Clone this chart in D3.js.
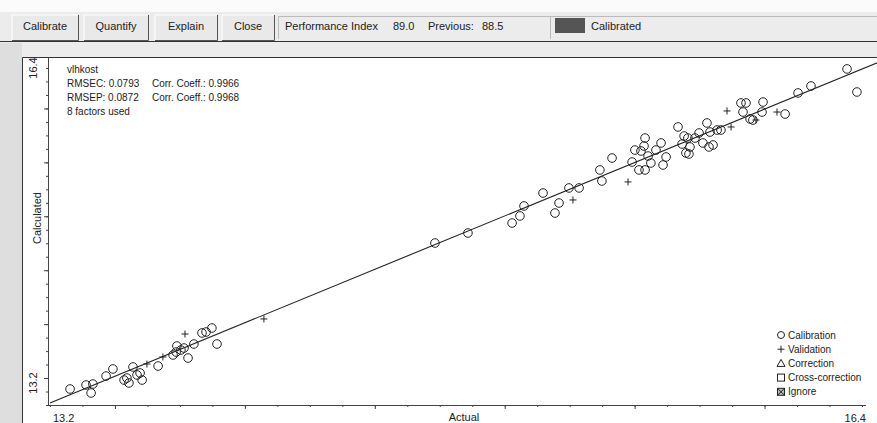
<!DOCTYPE html>
<html>
<head>
<meta charset="utf-8">
<script src="https://cdn.jsdelivr.net/npm/d3@7"></script>
<style>
  body { margin: 0; background: #ececec; }
  svg { display: block; font-family: "Liberation Sans", Arial, sans-serif; }
</style>
</head>
<body>
<svg id="chart" width="877" height="423"></svg>
<script>
// data
const calActual = [13.279, 13.342, 13.362, 13.369, 13.421, 13.448, 13.492, 13.503, 13.511, 13.527,
  13.543, 13.555, 13.563, 13.626, 13.685, 13.697, 13.700, 13.716, 13.728, 13.744,
  13.767, 13.799, 13.815, 13.838, 13.858,
  14.717, 14.847, 15.021, 15.052, 15.068, 15.143, 15.190, 15.206, 15.245, 15.285,
  15.367, 15.375, 15.415, 15.494, 15.505, 15.521, 15.529, 15.545, 15.541, 15.545,
  15.557, 15.568, 15.588, 15.608, 15.616, 15.628, 15.675, 15.691, 15.699, 15.706,
  15.718, 15.722, 15.714, 15.742, 15.758, 15.773, 15.789, 15.801, 15.797, 15.813,
  15.829, 15.844, 15.923, 15.943, 15.931, 15.959, 15.970, 16.010, 16.006, 16.097,
  16.148, 16.199, 16.341, 16.380];
const calCalculated = [13.352, 13.390, 13.314, 13.399, 13.475, 13.542, 13.437, 13.456, 13.409, 13.561,
  13.485, 13.504, 13.437, 13.570, 13.675, 13.703, 13.760, 13.722, 13.741, 13.646,
  13.779, 13.884, 13.893, 13.931, 13.779,
  14.738, 14.833, 14.928, 14.995, 15.090, 15.213, 15.023, 15.118, 15.261, 15.261,
  15.432, 15.327, 15.545, 15.507, 15.621, 15.432, 15.612, 15.735, 15.659, 15.432,
  15.564, 15.498, 15.621, 15.688, 15.479, 15.555, 15.840, 15.678, 15.754, 15.593,
  15.583, 15.650, 15.735, 15.735, 15.783, 15.688, 15.878, 15.792, 15.650, 15.669,
  15.811, 15.811, 16.068, 16.068, 15.982, 15.916, 15.906, 16.077, 15.982, 15.963,
  16.163, 16.229, 16.391, 16.172];

const valActual = [13.582, 13.645, 13.732, 14.043, 15.261, 15.478, 15.868, 15.884, 15.982, 16.065];
const valCalculated = [13.589, 13.656, 13.874, 14.017, 15.147, 15.318, 15.992, 15.840, 15.906, 15.982];

const fitActual = [13.2, 16.46];
const fitCalculated = [13.22, 16.45];

const axisMin = 13.2;
const axisMax = 16.4;
const axisLabels = ["13.2", "16.4"];

const buttons = ["Calibrate", "Quantify", "Explain", "Close"];
const statsLines = ["vlhkost", "RMSEC: 0.0793", "RMSEP: 0.0872", "8 factors used"];
const statsCoeff = ["", "Corr. Coeff.: 0.9966", "Corr. Coeff.: 0.9968", ""];
const legendLabels = ["Calibration", "Validation", "Correction", "Cross-correction", "Ignore"];

const width = 877, height = 423;
const plot = { left: 50, right: 862, top: 68, bottom: 405 };
const ink = "#222";

const svg = d3.select("#chart");

const x = d3.scaleLinear().domain([axisMin, axisMax]).range([plot.left, plot.right]);
const y = d3.scaleLinear().domain([axisMin, axisMax]).range([plot.bottom, plot.top]);

// 25 intervals on both axes, every 4th one a bit longer
const step = (axisMax - axisMin) / 25;
const minorTicks = d3.range(26).map(i => axisMin + i * step);
const majorTicks = minorTicks.filter((d, i) => i % 4 === 2);

const addFrame = () => {
  svg.append("rect").attr("width", width).attr("height", height).attr("fill", "#ececec");
  svg.append("rect").attr("width", width).attr("height", 12).attr("fill", "#fbfbfb");

  // toolbar buttons
  const bx = [12, 84, 155, 222], bw = [66, 64, 62, 52];
  buttons.forEach((b, i) => {
    const g = svg.append("g").attr("transform", `translate(${bx[i]},15)`);
    g.append("rect").attr("width", bw[i]).attr("height", 25).attr("fill", "#e9e9e9");
    g.append("path").attr("d", `M0,25V0H${bw[i]}`).attr("stroke", "#fff").attr("fill", "none");
    g.append("path").attr("d", `M0,25.5H${bw[i] + 0.5}V0`).attr("stroke", "#555").attr("fill", "none");
    g.append("text").text(b).attr("x", bw[i] / 2).attr("y", 15).attr("text-anchor", "middle")
      .attr("font-size", 11).attr("fill", ink);
  });

  // status panels
  svg.append("path").attr("d", "M278.5,39V16.5H877").attr("stroke", "#bbb").attr("fill", "none");
  svg.append("line").attr("x1", 550.5).attr("x2", 550.5).attr("y1", 16).attr("y2", 39).attr("stroke", "#bbb");
  svg.append("text").attr("x", 285).attr("y", 30).attr("font-size", 11).attr("fill", ink)
    .text("Performance Index");
  svg.append("text").attr("x", 393).attr("y", 30).attr("font-size", 11).attr("fill", ink).text("89.0");
  svg.append("text").attr("x", 428).attr("y", 30).attr("font-size", 11).attr("fill", ink).text("Previous:");
  svg.append("text").attr("x", 482).attr("y", 30).attr("font-size", 11).attr("fill", ink).text("88.5");
  svg.append("rect").attr("x", 555).attr("y", 18).attr("width", 30).attr("height", 15).attr("fill", "#555");
  svg.append("text").attr("x", 591).attr("y", 30).attr("font-size", 11).attr("fill", ink).text("Calibrated");
  svg.append("line").attr("x1", 0).attr("x2", width).attr("y1", 41.5).attr("y2", 41.5)
    .attr("stroke", "#333").attr("stroke-width", 1.2);

  // plot panel
  svg.append("rect").attr("x", 0).attr("y", 43).attr("width", 22).attr("height", height - 43).attr("fill", "#dedede");
  svg.append("rect").attr("x", 22).attr("y", 57).attr("width", width - 22).attr("height", height - 57).attr("fill", "#fff");
  svg.append("path").attr("d", `M22.5,${height}V57.5H${width}`).attr("stroke", "#333").attr("fill", "none");
};

const addAxis = () => {
  const xg = svg.append("g").attr("transform", `translate(0,${plot.bottom})`).attr("color", "#444");
  xg.call(d3.axisBottom(x).tickValues(minorTicks).tickSize(2).tickSizeOuter(0).tickFormat(""));
  xg.append("g").call(d3.axisBottom(x).tickValues(majorTicks).tickSize(4).tickFormat(""))
    .select(".domain").remove();
  xg.select(".domain").attr("d", `M${plot.left - 2},0.5H${plot.right + 4}`);

  const yg = svg.append("g").attr("transform", `translate(48,0)`).attr("color", "#444");
  yg.call(d3.axisLeft(y).tickValues(minorTicks).tickSize(2).tickSizeOuter(0).tickFormat(""));
  yg.append("g").call(d3.axisLeft(y).tickValues(majorTicks).tickSize(4).tickFormat(""))
    .select(".domain").remove();
  yg.select(".domain").attr("d", `M0.5,58V${plot.bottom}`);

  // end labels
  svg.append("text").text(axisLabels[0]).attr("x", x(axisMin) + 3).attr("y", 422)
    .attr("font-size", 11).attr("fill", ink);
  svg.append("text").text(axisLabels[1]).attr("x", x(axisMax) + 4).attr("y", 422)
    .attr("text-anchor", "end").attr("font-size", 11).attr("fill", ink);
  svg.append("text").text(axisLabels[1]).attr("transform", `translate(37,${y(axisMax)}) rotate(-90)`)
    .attr("text-anchor", "middle").attr("font-size", 11).attr("fill", ink);
  svg.append("text").text(axisLabels[0]).attr("transform", `translate(37,${y(axisMin) - 22}) rotate(-90)`)
    .attr("text-anchor", "middle").attr("font-size", 11).attr("fill", ink);

  svg.append("text").text("Actual").attr("x", 464).attr("y", 421).attr("text-anchor", "middle")
    .attr("font-size", 11).attr("fill", ink);
  svg.append("text").text("Calculated").attr("transform", "translate(41,218) rotate(-90)")
    .attr("text-anchor", "middle").attr("font-size", 11).attr("fill", ink);
};

const addPoints = () => {
  svg.append("line")
    .attr("x1", x(fitActual[0])).attr("y1", y(fitCalculated[0]))
    .attr("x2", x(fitActual[1])).attr("y2", y(fitCalculated[1]))
    .attr("stroke", ink).attr("stroke-width", 1.1);

  svg.append("g").selectAll("circle")
    .data(calActual)
    .enter()
    .append("circle")
    .attr("cx", d => x(d))
    .attr("cy", (d, i) => y(calCalculated[i]))
    .attr("r", 4.3)
    .attr("fill", "none")
    .attr("stroke", ink)
    .attr("stroke-width", 1);

  svg.append("g").selectAll("path")
    .data(valActual)
    .enter()
    .append("path")
    .attr("d", (d, i) => {
      const cx = x(d), cy = y(valCalculated[i]);
      return `M${cx - 3.5},${cy}H${cx + 3.5}M${cx},${cy - 3.5}V${cy + 3.5}`;
    })
    .attr("stroke", ink)
    .attr("stroke-width", 1);
};

const addText = () => {
  statsLines.forEach((t, i) => {
    svg.append("text").text(t).attr("x", 67).attr("y", 73 + i * 14)
      .attr("font-size", 10).attr("fill", ink);
    if (statsCoeff[i]) {
      svg.append("text").text(statsCoeff[i]).attr("x", 152).attr("y", 73 + i * 14)
        .attr("font-size", 10).attr("fill", ink);
    }
  });

  const lg = svg.append("g").attr("transform", "translate(781,335)");
  legendLabels.forEach((t, i) => {
    const g = lg.append("g").attr("transform", `translate(0,${i * 14.2})`);
    if (i === 0) g.append("circle").attr("r", 3.5).attr("fill", "none").attr("stroke", ink);
    if (i === 1) g.append("path").attr("d", "M-3.5,0H3.5M0,-3.5V3.5").attr("stroke", ink);
    if (i === 2) g.append("path").attr("d", "M-4,3L0,-4L4,3Z").attr("fill", "none").attr("stroke", ink);
    if (i === 3) g.append("rect").attr("x", -3.5).attr("y", -3.5).attr("width", 7).attr("height", 7)
      .attr("fill", "none").attr("stroke", ink);
    if (i === 4) {
      g.append("rect").attr("x", -3.5).attr("y", -3.5).attr("width", 7).attr("height", 7)
        .attr("fill", "#bbb").attr("stroke", ink);
      g.append("path").attr("d", "M-3.5,-3.5L3.5,3.5M3.5,-3.5L-3.5,3.5").attr("stroke", ink);
    }
    g.append("text").text(t).attr("x", 7).attr("y", 3.5).attr("font-size", 10).attr("fill", ink);
  });
};

addFrame();
addAxis();
addPoints();
addText();
</script>
</body>
</html>
